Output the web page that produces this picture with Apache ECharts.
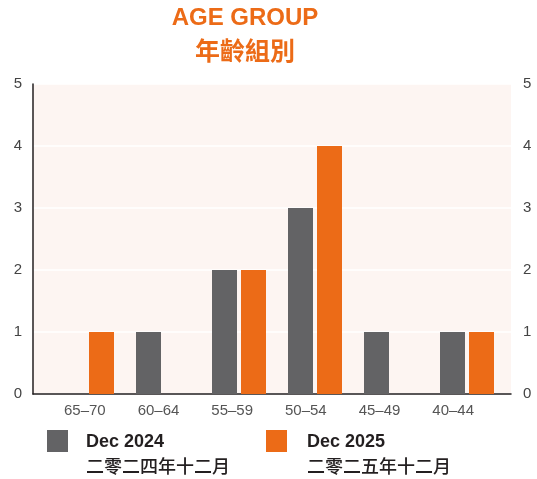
<!DOCTYPE html>
<html><head><meta charset="utf-8">
<script src="https://cdn.jsdelivr.net/npm/echarts@6/dist/echarts.min.js"></script>
<style>html,body{margin:0;padding:0;background:#fff}#c{width:537px;height:479px}</style>
</head><body><div id="c"></div>
<script>
const titleLines = ['AGE GROUP', '年齡組別'];
const categories = ['65–70', '60–64', '55–59', '50–54', '45–49', '40–44'];
const dec2024 = [0, 1, 2, 3, 1, 1];
const dec2025 = [1, 0, 2, 4, 0, 1];
const seriesNames = ['Dec 2024', 'Dec 2025'];
const seriesNamesZh = ['二零二四年十二月', '二零二五年十二月'];
const yTicks = [0, 1, 2, 3, 4, 5];

const GRAY = '#636365', ORANGE = '#ec6b17';
const FONT = '"Liberation Sans", Arial, sans-serif';
const CJK = '"Noto Sans CJK TC", "Noto Sans CJK SC", sans-serif';

const chart = echarts.init(document.getElementById('c'), null, {renderer: 'canvas'});
const yMax = yTicks[yTicks.length - 1];
const option = {
  animation: false,
  grid: [
    {left: 33, right: 26, top: 84, bottom: 85, show: true, backgroundColor: '#fdf5f2', borderWidth: 0},
    {left: 49, right: 32, top: 84, bottom: 85},
    {left: 48, width: 442, top: 84, bottom: 85}
  ],
  xAxis: [
    {gridIndex: 0, type: 'category', data: categories, axisLine: {show: true, lineStyle: {color: '#231f20', width: 1.5}},
     axisTick: {show: false}, axisLabel: {show: false}},
    {gridIndex: 1, type: 'category', data: categories, axisLine: {show: false}, axisTick: {show: false}, axisLabel: {show: false}},
    {gridIndex: 2, type: 'category', data: categories, axisLine: {show: false}, axisTick: {show: false},
     axisLabel: {show: true, margin: 9, color: '#555', fontSize: 15, fontFamily: FONT}}
  ],
  yAxis: [
    {gridIndex: 0, type: 'value', min: 0, max: yMax, interval: 1, position: 'left',
     axisLine: {show: true, lineStyle: {color: '#231f20', width: 1.5}}, axisTick: {show: false},
     axisLabel: {margin: 11, color: '#444', fontSize: 15, fontFamily: FONT},
     splitLine: {show: true, lineStyle: {color: '#ffffff', width: 1.5}}},
    {gridIndex: 0, type: 'value', min: 0, max: yMax, interval: 1, position: 'right',
     axisLine: {show: false}, axisTick: {show: false},
     axisLabel: {margin: 12, color: '#444', fontSize: 15, fontFamily: FONT}, splitLine: {show: false}},
    {gridIndex: 1, type: 'value', min: 0, max: yMax, show: false},
    {gridIndex: 2, type: 'value', min: 0, max: yMax, show: false}
  ],
  series: [
    {name: seriesNames[0], type: 'bar', xAxisIndex: 1, yAxisIndex: 2, data: dec2024, barWidth: 25, barGap: '16%',
     itemStyle: {color: GRAY}},
    {name: seriesNames[1], type: 'bar', xAxisIndex: 1, yAxisIndex: 2, data: dec2025, barWidth: 25, barGap: '16%',
     itemStyle: {color: ORANGE}}
  ],
  graphic: [
    {type: 'text', x: 245, y: 18, style: {text: titleLines[0], fill: ORANGE, font: 'bold 24px ' + FONT,
      align: 'center', verticalAlign: 'middle'}},
    {type: 'text', x: 245, y: 50, style: {text: titleLines[1], fill: ORANGE, font: 'bold 25px ' + CJK,
      align: 'center', verticalAlign: 'middle'}},
    {type: 'rect', shape: {x: 47, y: 430, width: 21, height: 22}, style: {fill: GRAY}},
    {type: 'text', x: 86, y: 442, style: {text: seriesNames[0], fill: '#231f20', font: 'bold 18px ' + FONT, verticalAlign: 'middle'}},
    {type: 'text', x: 86, y: 466, style: {text: seriesNamesZh[0], fill: '#231f20', font: '500 18px ' + CJK, verticalAlign: 'middle'}},
    {type: 'rect', shape: {x: 266, y: 430, width: 21, height: 22}, style: {fill: ORANGE}},
    {type: 'text', x: 307, y: 442, style: {text: seriesNames[1], fill: '#231f20', font: 'bold 18px ' + FONT, verticalAlign: 'middle'}},
    {type: 'text', x: 307, y: 466, style: {text: seriesNamesZh[1], fill: '#231f20', font: '500 18px ' + CJK, verticalAlign: 'middle'}}
  ]
};
chart.setOption(option);
</script></body></html>
